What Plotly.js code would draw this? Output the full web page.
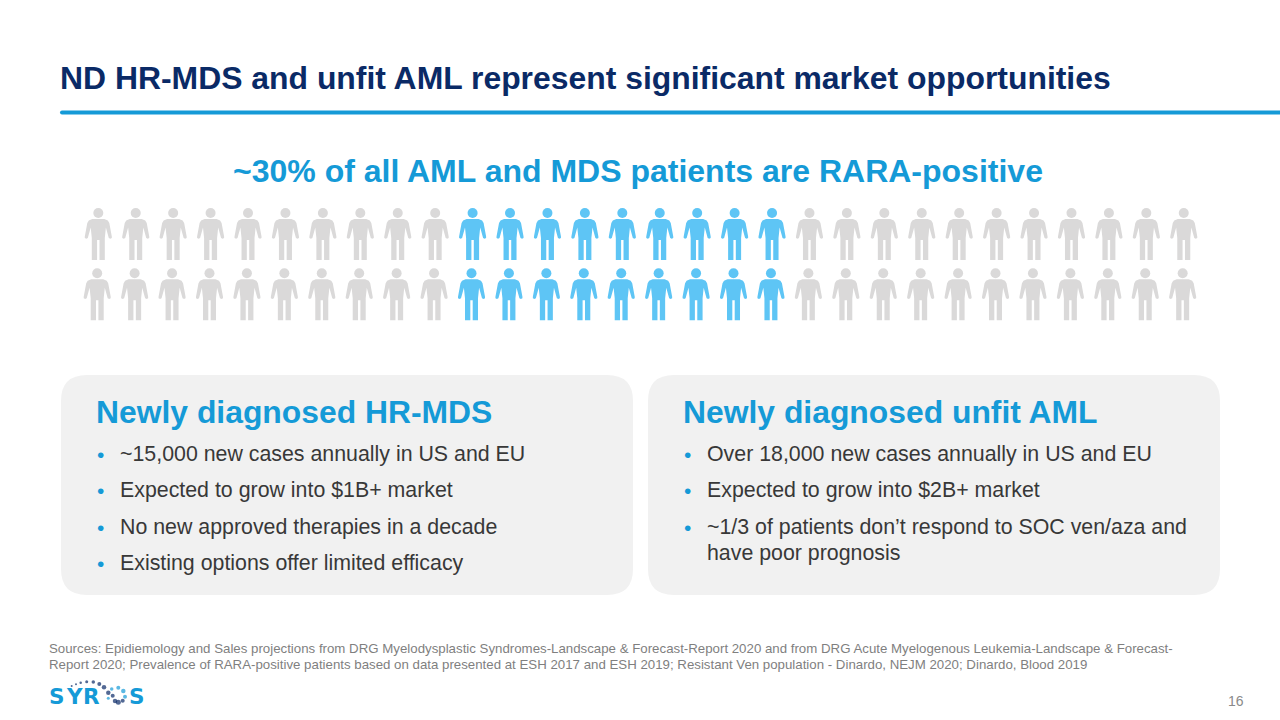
<!DOCTYPE html>
<html><head><meta charset="utf-8">
<script src="https://cdn.plot.ly/plotly-3.0.1.min.js"></script>
<style>html,body{margin:0;padding:0;background:#fff;overflow:hidden}</style></head>
<body><div id="chart" style="width:1280px;height:720px"></div>
<script>
const titleText = "ND HR-MDS and unfit AML represent significant market opportunities";
const subtitleText = "~30% of all AML and MDS patients are RARA-positive";
const leftHeading = "Newly diagnosed HR-MDS";
const rightHeading = "Newly diagnosed unfit AML";
const leftBullets = ["~15,000 new cases annually in US and EU","Expected to grow into $1B+ market","No new approved therapies in a decade","Existing options offer limited efficacy"];
const rightBullets = ["Over 18,000 new cases annually in US and EU","Expected to grow into $2B+ market","~1/3 of patients don’t respond to SOC ven/aza and","have poor prognosis"];
const sourceLines = ["Sources: Epidiemology and Sales projections from DRG Myelodysplastic Syndromes-Landscape & Forecast-Report 2020 and from DRG Acute Myelogenous Leukemia-Landscape & Forecast-","Report 2020; Prevalence of RARA-positive patients based on data presented at ESH 2017 and ESH 2019; Resistant Ven population - Dinardo, NEJM 2020; Dinardo, Blood 2019"];
const peopleGrayBefore = 10, peopleHighlighted = 9, peopleGrayAfter = 11;
const pageNumber = "16";

const FONT = "Liberation Sans, Arial, sans-serif";
const BLUE = "#159ad7", NAVY = "#0a2a66", TEXT = "#383838", GRAY = "#dad9d9", SKY = "#5ec5f5";

// person outline, left half, relative to head centre
const half = [[0,6],[-6,6],[-9.5,7.5],[-11,10],[-13.5,23.5],[-13.5,25],[-12,25.8],[-10.5,25],[-7.6,14.5],[-6.5,25],[-6.5,47],[-1.2,47],[-1.2,27],[0,27]];
const outline = half.concat(half.slice().reverse().map(p=>[-p[0],p[1]]));
const rows = [{x0:98.3,y:213},{x0:97.2,y:273.2}];
const step = 37.43;
const total = peopleGrayBefore + peopleHighlighted + peopleGrayAfter;
const bodies = {g:{x:[],y:[]},b:{x:[],y:[]}}, heads = {g:{x:[],y:[]},b:{x:[],y:[]}};
rows.forEach(r=>{
  for(let i=0;i<total;i++){
    const k = (i>=peopleGrayBefore && i<peopleGrayBefore+peopleHighlighted)?'b':'g';
    const cx = r.x0+i*step;
    outline.forEach(p=>{bodies[k].x.push(cx+p[0]);bodies[k].y.push(r.y+p[1]);});
    bodies[k].x.push(null);bodies[k].y.push(null);
    heads[k].x.push(cx);heads[k].y.push(r.y);
  }
});
const bodyTrace=(d,c)=>({x:d.x,y:d.y,mode:'lines',fill:'toself',fillcolor:c,line:{width:0,color:c},hoverinfo:'skip',showlegend:false});
const headTrace=(d,c)=>({x:d.x,y:d.y,mode:'markers',marker:{size:10,color:c,line:{width:0}},hoverinfo:'skip',showlegend:false});

// logo dots
const logoNavyX=[71.7,76,80.7,86.7,93.3,99.3,104,108.3,112.7,115,118.3,122.7];
const logoNavyY=[686,684.3,682.7,681.7,682,684,687.3,692.7,695.7,701,702.3,700.7];
const logoNavyS=[2,2,2.5,3,3.5,4,4.5,4.5,4,4.5,5,4];
const logoBlueX=[111.7,118.3,123.3,125,108.3];
const logoBlueY=[689,687.7,691,696.7,698.3];
const logoBlueS=[3.5,4,4.5,4,3];

const ann=[];
const T=(text,x,y,size,color,bold,anchor,fam)=>ann.push({text:bold?'<b>'+text+'</b>':text,x:x,y:y,xref:'x',yref:'y',xanchor:anchor||'left',yanchor:'middle',showarrow:false,align:anchor||'left',font:{family:fam||FONT,size:size,color:color},borderpad:0});
T(titleText,58.5,78,31.9,NAVY,true);
T(subtitleText,638,171,32,BLUE,true,'center');
T(leftHeading,95,412,31.85,BLUE,true);
T(rightHeading,682,412,31.85,BLUE,true);
const ly=[454,490,527,563], ry=[454,490,527,553];
leftBullets.forEach((s,i)=>{T(s,119,ly[i],21.35,TEXT);T('•',96,ly[i],21,BLUE);});
rightBullets.forEach((s,i)=>{T(s,706,ry[i],21.35,TEXT);if(i<3)T('•',683,ry[i],21,BLUE);});
T(sourceLines[0],48,648,13.28,'#7f7f7f');
T(sourceLines[1],48,664,13.28,'#7f7f7f');
T(pageNumber,1245,701,14,'#8a8a8a',false,'right');
[['S',47.5],['Y',64.5],['R',82],['S',127.5]].forEach(l=>T(l[0],l[1],696,21.5,BLUE,true,'left','DejaVu Sans, sans-serif'));

const rr=(x0,y0,x1,y1,r)=>`M${x0+r},${y0} L${x1-r},${y0} Q${x1},${y0} ${x1},${y0+r} L${x1},${y1-r} Q${x1},${y1} ${x1-r},${y1} L${x0+r},${y1} Q${x0},${y1} ${x0},${y1-r} L${x0},${y0+r} Q${x0},${y0} ${x0+r},${y0} Z`;
const shapes=[
 {type:'path',xref:'x',yref:'y',path:rr(61,375,633,595,26),fillcolor:'#f1f1f1',line:{width:0},layer:'below'},
 {type:'path',xref:'x',yref:'y',path:rr(648,375,1220,595,26),fillcolor:'#f1f1f1',line:{width:0},layer:'below'},
 {type:'path',xref:'x',yref:'y',path:rr(60,110.5,1290,114.5,2),fillcolor:BLUE,line:{width:0},layer:'below'}
];
const traces=[bodyTrace(bodies.g,GRAY),bodyTrace(bodies.b,SKY),headTrace(heads.g,GRAY),headTrace(heads.b,SKY),
 {x:logoNavyX,y:logoNavyY,mode:'markers',marker:{size:logoNavyS,color:'#0a2a66',line:{width:0}},hoverinfo:'skip',showlegend:false},
 {x:logoBlueX,y:logoBlueY,mode:'markers',marker:{size:logoBlueS,color:BLUE,line:{width:0}},hoverinfo:'skip',showlegend:false}];
const ax=(r)=>({range:r,visible:false,fixedrange:true,showgrid:false,zeroline:false});
Plotly.newPlot('chart',traces,{width:1280,height:720,margin:{l:0,r:0,t:0,b:0,pad:0},paper_bgcolor:'#fff',plot_bgcolor:'#fff',
 xaxis:ax([0,1280]),yaxis:ax([720,0]),showlegend:false,annotations:ann,shapes:shapes},{displayModeBar:false,staticPlot:true});
</script></body></html>
